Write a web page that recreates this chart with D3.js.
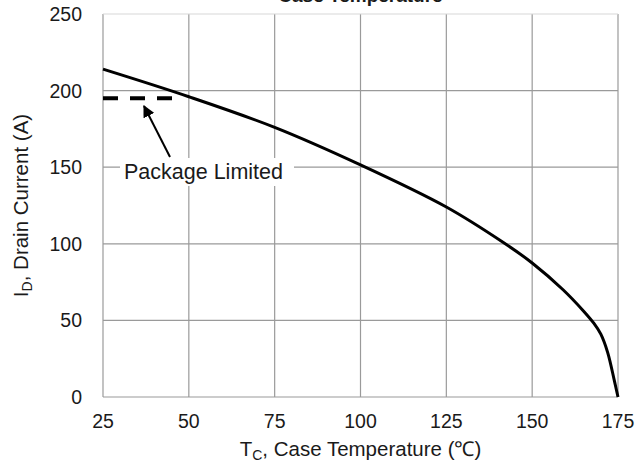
<!DOCTYPE html>
<html>
<head>
<meta charset="utf-8">
<script src="https://d3js.org/d3.v7.min.js"></script>
<style>
  body { margin: 0; background: #fff; }
  text { font-family: "Liberation Sans", Arial, sans-serif; fill: #1a1a1a; }
</style>
</head>
<body>
<div class="canva"></div>
<script>
// drain current vs case temperature
const caseTemp = [25, 50, 75, 100, 125, 141.5, 150, 159, 165, 168, 170, 172, 174, 175];
const drainCurrent = [214, 196, 176, 151.5, 124, 101, 87.5, 70, 56, 48, 41, 29, 10, 0];

// package limit line
const packageTemp = [25, 46.5];
const packageLimit = 195;

const xTicks = [25, 50, 75, 100, 125, 150, 175];
const yTicks = [0, 50, 100, 150, 200, 250];

const width = 638, height = 463;
const margin = {top: 14, right: 20, bottom: 66, left: 103};

const svg = d3.select(".canva").append("svg")
    .attr("width", width)
    .attr("height", height);

const x = d3.scaleLinear().domain([25, 175]).range([margin.left, width - margin.right]);
const y = d3.scaleLinear().domain([0, 250]).range([height - margin.bottom, margin.top]);

// grid
svg.append("g")
    .selectAll("line")
    .data(xTicks)
    .join("line")
    .attr("x1", d => x(d)).attr("x2", d => x(d))
    .attr("y1", y(0)).attr("y2", y(250))
    .attr("stroke", "#9a9a9a")
    .attr("stroke-width", 1.2);

svg.append("g")
    .selectAll("line")
    .data(yTicks)
    .join("line")
    .attr("x1", x(25)).attr("x2", x(175))
    .attr("y1", d => y(d)).attr("y2", d => y(d))
    .attr("stroke", d => d == 250 ? "#d8d8d8" : "#9a9a9a")
    .attr("stroke-width", 1.2);

// tick labels
svg.append("g")
    .selectAll("text")
    .data(xTicks)
    .join("text")
    .attr("x", d => x(d))
    .attr("y", 428)
    .attr("text-anchor", "middle")
    .attr("font-size", 19.5)
    .text(d => d);

svg.append("g")
    .selectAll("text")
    .data(yTicks)
    .join("text")
    .attr("x", 82)
    .attr("y", d => y(d) + 7)
    .attr("text-anchor", "end")
    .attr("font-size", 19.5)
    .text(d => d);

// package limited dashed line
svg.append("line")
    .attr("x1", x(packageTemp[0])).attr("x2", x(packageTemp[1]))
    .attr("y1", y(packageLimit)).attr("y2", y(packageLimit))
    .attr("stroke", "#000")
    .attr("stroke-width", 4)
    .attr("stroke-dasharray", "15,12");

// the curve
const line = d3.line()
    .x((d, i) => x(caseTemp[i]))
    .y(d => y(d))
    .curve(d3.curveCatmullRom.alpha(0.5));

svg.append("path")
    .datum(drainCurrent)
    .attr("d", line)
    .attr("fill", "none")
    .attr("stroke", "#000")
    .attr("stroke-width", 3);

// annotation
svg.append("rect")
    .attr("x", 120).attr("y", 158)
    .attr("width", 174).attr("height", 28)
    .attr("fill", "#fff");

svg.append("text")
    .attr("x", 124)
    .attr("y", 179)
    .attr("font-size", 21.5)
    .text("Package Limited");

svg.append("defs").append("marker")
    .attr("id", "arrow")
    .attr("viewBox", "0 0 10 10")
    .attr("refX", 9).attr("refY", 5)
    .attr("markerWidth", 6).attr("markerHeight", 6)
    .attr("orient", "auto")
    .append("path")
    .attr("d", "M0,0L10,5L0,10z")
    .attr("fill", "#000");

svg.append("line")
    .attr("x1", 170).attr("y1", 157)
    .attr("x2", 144).attr("y2", 106)
    .attr("stroke", "#000")
    .attr("stroke-width", 2)
    .attr("marker-end", "url(#arrow)");

// titles
svg.append("text")
    .attr("x", (x(25) + x(175)) / 2)
    .attr("y", 2)
    .attr("text-anchor", "middle")
    .attr("font-size", 19)
    .attr("font-weight", "bold")
    .text("Case Temperature");

const xt = svg.append("text")
    .attr("x", (x(25) + x(175)) / 2)
    .attr("y", 456)
    .attr("text-anchor", "middle")
    .attr("font-size", 20.5);
xt.append("tspan").text("T");
xt.append("tspan").attr("font-size", 14).attr("dy", 4).text("C");
xt.append("tspan").attr("dy", -4).text(", Case Temperature (℃)");

const yt = svg.append("text")
    .attr("transform", `translate(28,${(y(0) + y(250)) / 2}) rotate(-90)`)
    .attr("text-anchor", "middle")
    .attr("font-size", 20.5);
yt.append("tspan").text("I");
yt.append("tspan").attr("font-size", 14).attr("dy", 4).text("D");
yt.append("tspan").attr("dy", -4).text(", Drain Current (A)");
</script>
</body>
</html>
